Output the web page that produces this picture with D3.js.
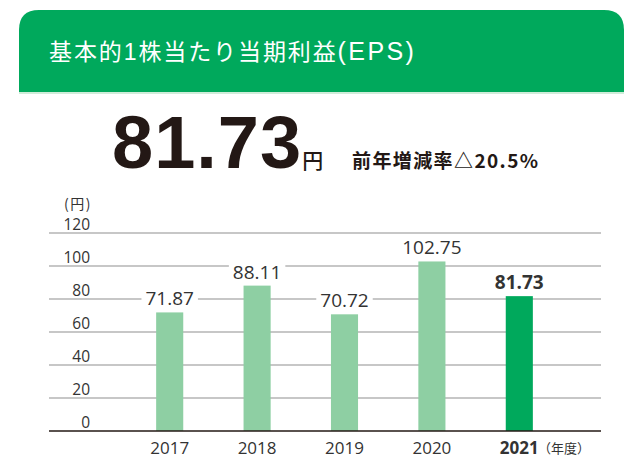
<!DOCTYPE html>
<html>
<head>
<meta charset="utf-8">
<script src="https://cdn.jsdelivr.net/npm/d3@7"></script>
<style>
  body { margin: 0; background: #fff; }
  svg { display: block; }
</style>
</head>
<body>
<div id="chart"></div>
<script>
// EPS-Daten
const years = ["2017", "2018", "2019", "2020", "2021"];
const eps = [71.87, 88.11, 70.72, 102.75, 81.73];
const yTicks = [0, 20, 40, 60, 80, 100, 120];
const title = "基本的1株当たり当期利益(EPS)";
const headline = "81.73";
const changeText = "前年増減率△20.5%";

const W = 624, H = 458;
const jpFont = "'Noto Sans CJK JP', 'Noto Sans', sans-serif";
const numFont = "'Open Sans', 'Noto Sans CJK JP', sans-serif";
const green = "#00a95c", lightGreen = "#8ecfa3", ink = "#333";

const svg = d3.select("#chart").append("svg")
    .attr("width", W)
    .attr("height", H);

// Kopfzeile
svg.append("path")
    .attr("d", `M19,92 V30 Q19,10 39,10 H604 Q624,10 624,30 V92 Z`)
    .attr("fill", green);
svg.append("line")
    .attr("x1", 19).attr("x2", W).attr("y1", 93).attr("y2", 93)
    .style("stroke", "#bfe6cc").style("stroke-width", 1.5);
const titleParts = title.split(/(?=\()/);
svg.append("text")
    .attr("x", 49).attr("y", 60)
    .attr("fill", "#fff")
    .style("font-family", "'Liberation Sans', 'Noto Sans CJK JP', sans-serif")
    .style("font-size", "23px")
    .style("letter-spacing", "1.9px")
    .selectAll("tspan")
    .data(titleParts)
    .enter().append("tspan")
    .style("font-size", (d, i) => i === 1 ? "25px" : null)
    .style("letter-spacing", (d, i) => i === 1 ? "2.4px" : null)
    .text(d => d);

// Großer Wert
const big = svg.append("text")
    .attr("x", 112).attr("y", 168)
    .attr("fill", "#231815")
    .style("font-family", "'Liberation Sans', Arial, sans-serif")
    .style("font-size", "74px")
    .style("font-weight", "bold")
    .style("letter-spacing", "1px")
    .text(headline);
big.append("tspan")
    .style("font-family", jpFont)
    .style("font-size", "21px")
    .style("font-weight", 500)
    .style("letter-spacing", "0px")
    .text("円");
svg.append("text")
    .attr("x", 352).attr("y", 168)
    .attr("fill", "#231815")
    .style("font-family", jpFont)
    .style("font-size", "19px")
    .style("letter-spacing", "1.4px")
    .style("font-weight", "bold")
    .text(changeText);

// Skalen
const y = d3.scaleLinear().domain([0, 120]).range([431, 233]);
const x = d3.scaleBand().domain(years).range([126, 563])
    .paddingInner(0.69).paddingOuter(0.345);

// Gitterlinien
svg.selectAll(".grid")
    .data(yTicks.filter(d => d > 0))
    .enter().append("line")
    .attr("class", "grid")
    .attr("x1", 49).attr("x2", 601)
    .attr("y1", d => y(d)).attr("y2", d => y(d))
    .style("stroke", "#b5b5b5")
    .style("stroke-width", 1.3);

svg.selectAll(".ytick")
    .data(yTicks)
    .enter().append("text")
    .attr("class", "ytick")
    .attr("x", 90)
    .attr("y", d => y(d) - 3)
    .attr("text-anchor", "end")
    .attr("fill", ink)
    .style("font-family", numFont)
    .style("font-size", "15.5px")
    .text(d => d);

svg.append("text")
    .attr("x", 64).attr("y", 209)
    .attr("fill", ink)
    .style("font-family", jpFont)
    .style("font-size", "14px")
    .style("letter-spacing", "1.5px")
    .text("(円)");

// Balken
svg.selectAll(".bar")
    .data(years)
    .enter().append("rect")
    .attr("class", "bar")
    .attr("x", d => x(d))
    .attr("width", x.bandwidth())
    .attr("y", (d, i) => y(eps[i]))
    .attr("height", (d, i) => y(0) - y(eps[i]))
    .style("fill", (d, i) => i === years.length - 1 ? green : lightGreen);

// Nulllinie
svg.append("line")
    .attr("x1", 49).attr("x2", 601)
    .attr("y1", y(0)).attr("y2", y(0))
    .style("stroke", "#231815")
    .style("stroke-width", 1.5);

// Wertbeschriftungen mit weißem Hintergrund
const valueLabels = svg.selectAll(".val")
    .data(years)
    .enter().append("g")
    .attr("class", "val");
const valueText = valueLabels.append("text")
    .attr("x", d => x(d) + x.bandwidth() / 2)
    .attr("y", (d, i) => y(eps[i]) - 7)
    .attr("text-anchor", "middle")
    .attr("fill", ink)
    .style("font-family", numFont)
    .style("font-size", "19px")
    .style("font-weight", (d, i) => i === years.length - 1 ? "bold" : "normal")
    .text((d, i) => eps[i].toFixed(2));
valueText.each(function () {
    const b = this.getBBox();
    d3.select(this.parentNode).insert("rect", "text")
        .attr("x", b.x - 4).attr("y", b.y)
        .attr("width", b.width + 8).attr("height", b.height)
        .style("fill", "#fff");
});

// x-Achse
svg.selectAll(".xlab")
    .data(years)
    .enter().append("text")
    .attr("class", "xlab")
    .attr("x", d => x(d) + x.bandwidth() / 2)
    .attr("y", 454)
    .attr("text-anchor", "middle")
    .attr("fill", ink)
    .style("font-family", numFont)
    .style("font-size", "17px")
    .style("font-weight", (d, i) => i === years.length - 1 ? "bold" : "normal")
    .text(d => d);

svg.append("text")
    .attr("x", 538).attr("y", 453)
    .attr("fill", ink)
    .style("font-family", jpFont)
    .style("font-size", "13px")
    .text("（年度）");
</script>
</body>
</html>
